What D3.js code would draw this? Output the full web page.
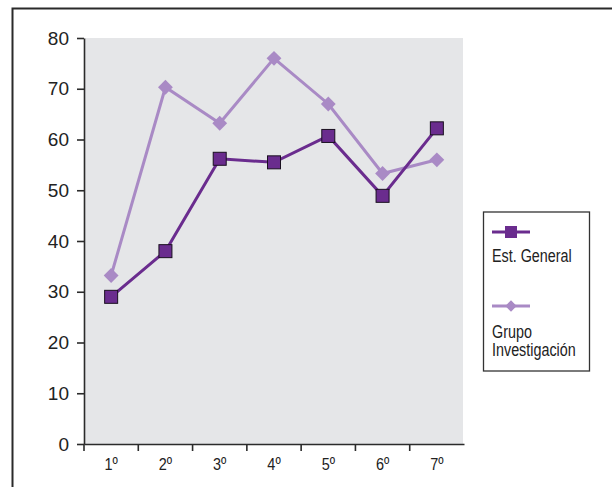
<!DOCTYPE html>
<html><head><meta charset="utf-8">
<script src="https://cdn.jsdelivr.net/npm/d3@7"></script>
<style>
html,body{margin:0;padding:0;background:#fff;}
svg{display:block;}
</style></head>
<body>
<svg id="chart" width="612" height="487"></svg>
<script>
const categories = ["1º","2º","3º","4º","5º","6º","7º"];
const estGeneral = [29.0, 38.0, 56.2, 55.5, 60.7, 48.9, 62.2];
const grupoInvestigacion = [33.2, 70.3, 63.2, 76.0, 67.0, 53.3, 56.0];
const yTicks = [0,10,20,30,40,50,60,70,80];
const seriesNames = ["Est. General", "Grupo Investigación"];

const darkC = "#6a2c8e", lightC = "#a98ac5", axisC = "#2b2b2b";
const FONT = "'Liberation Sans',Arial,sans-serif";
const svg = d3.select("#chart");

// outer frame
svg.append("rect").attr("x",12.5).attr("y",8.5).attr("width",700).attr("height",600)
  .attr("fill","none").attr("stroke","#2a2a2a").attr("stroke-width",2);

const x = d3.scaleBand().domain(categories).range([84,464]);
const y = d3.scaleLinear().domain([0,80]).range([444,38]);

svg.append("rect").attr("x",85).attr("y",y(80)).attr("width",463-85).attr("height",y(0)-y(80)).attr("fill","#e5e6e8");

// y axis
const ya = svg.append("g").attr("transform","translate(84,0)")
  .call(d3.axisLeft(y).tickValues(yTicks).tickSize(7).tickSizeOuter(0).tickPadding(8));
ya.select(".domain").attr("stroke",axisC).attr("stroke-width",1.6);
ya.selectAll(".tick line").attr("stroke",axisC).attr("stroke-width",1.6);
ya.selectAll(".tick text").attr("fill","#222").attr("font-size","19px").attr("font-family",FONT);

// x axis
const xa = svg.append("g").attr("transform","translate(0,444)")
  .call(d3.axisBottom(x).tickSize(0).tickSizeOuter(0).tickPadding(14));
xa.select(".domain").attr("stroke",axisC).attr("stroke-width",1.6);
xa.selectAll(".tick text").attr("fill","#222").attr("font-size","17px").attr("font-family",FONT)
  .attr("transform","scale(0.85,1)");
xa.selectAll(".xt").data(categories).enter().append("line").attr("class","xt")
  .attr("x1",d=>x(d)).attr("x2",d=>x(d)).attr("y1",0).attr("y2",7)
  .attr("stroke",axisC).attr("stroke-width",1.6);

const cx = d => x(d) + x.bandwidth()/2;
const line = d3.line().x((d,i)=>cx(categories[i])).y(d=>y(d));

// light series
svg.append("path").datum(grupoInvestigacion).attr("d",line).attr("fill","none")
  .attr("stroke",lightC).attr("stroke-width",3);
const diamond = d3.symbol().type(d3.symbolSquare).size(110);
svg.selectAll(".dia").data(grupoInvestigacion).enter().append("path").attr("class","dia")
  .attr("d",diamond).attr("transform",(d,i)=>`translate(${cx(categories[i])},${y(d)}) rotate(45)`)
  .attr("fill",lightC);

// dark series
svg.append("path").datum(estGeneral).attr("d",line).attr("fill","none")
  .attr("stroke",darkC).attr("stroke-width",3);
svg.selectAll(".sq").data(estGeneral).enter().append("rect").attr("class","sq")
  .attr("x",(d,i)=>cx(categories[i])-6.5).attr("y",d=>y(d)-6.5)
  .attr("width",13).attr("height",13).attr("fill",darkC).attr("stroke","#1a1020").attr("stroke-width",1);

// legend
const lg = svg.append("g");
lg.append("rect").attr("x",483.5).attr("y",212).attr("width",106).attr("height",159)
  .attr("fill","#fff").attr("stroke","#333").attr("stroke-width",1.3);
lg.append("line").attr("x1",492).attr("x2",530).attr("y1",232).attr("y2",232).attr("stroke",darkC).attr("stroke-width",3);
lg.append("rect").attr("x",505).attr("y",226).attr("width",12).attr("height",12).attr("fill",darkC);
const addText = (t, tx, ty) => lg.append("text").attr("transform",`translate(${tx},${ty}) scale(0.82,1)`)
  .attr("font-size","17.5px").attr("font-family",FONT).attr("fill","#222").text(t);
addText(seriesNames[0], 492, 262);
lg.append("line").attr("x1",492).attr("x2",530).attr("y1",306).attr("y2",306).attr("stroke",lightC).attr("stroke-width",3);
lg.append("path").attr("d",d3.symbol().type(d3.symbolSquare).size(64)).attr("transform","translate(511,306) rotate(45)").attr("fill",lightC);
const parts = seriesNames[1].split(" ");
addText(parts[0], 492, 338);
addText(parts[1], 492, 355.5);
</script>
</body></html>
